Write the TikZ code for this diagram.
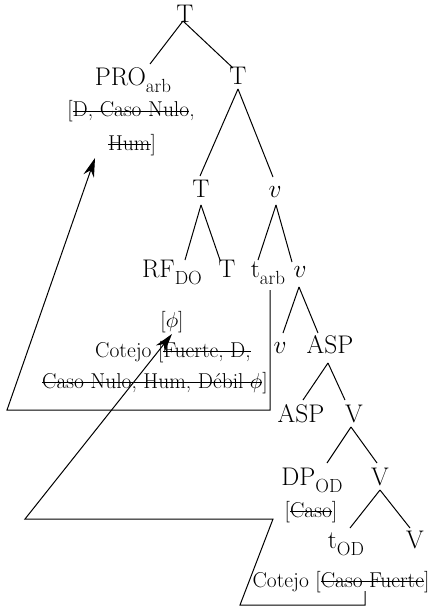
\documentclass[tikz,border=0pt]{standalone}
\usepackage{fix-cm}
\usetikzlibrary{calc,arrows.meta}
\newcommand{\lsub}[1]{\raisebox{-7pt}{\fontsize{19}{19}\selectfont #1}}
\newsavebox{\strkbox}
\newcommand{\strk}[1]{\sbox{\strkbox}{#1}\rlap{\rule[0.25em]{\wd\strkbox}{0.7pt}}\usebox{\strkbox}}
\tikzset{
  lab/.style={anchor=base,inner sep=0pt,font=\fontsize{25.5}{28}\selectfont},
  feat/.style={anchor=base,inner sep=0pt,font=\fontsize{21.5}{24}\selectfont},
  move/.style={line width=1pt,-{Stealth[length=19pt,width=11pt]}},
}
\begin{document}
\begin{tikzpicture}[x=1pt,y=-1pt,line width=1pt]
  \useasboundingbox (0,0) rectangle (431,607);
  % tree labels
  \foreach \n/\x/\y/\txt in {t0/185/23/T, pro/133/86/PRO\lsub{arb}, t1/238/85/T,
      t2/201/197/T, v2/275/197/$v$, rf/172/277/RF\lsub{DO}, t3/227/277/T,
      tarb/268/277/t\lsub{arb}, v3/300/277/$v$, v4/280/353/$v$, asp1/330/353/ASP,
      asp2/301/422/ASP, vv1/354/422/V, dp/312/485/DP\lsub{OD}, vv2/380/485/V,
      tod/346/548/t\lsub{OD}, vv3/415/548/V} {
    \node[lab] (\n) at (\x,\y) {\txt};
  }
  % features
  \foreach \n/\x/\y/\txt in {pf1/131/117/{[\strk{D, Caso Nulo},},
      pf2/132/150/{\strk{Hum}]}, phi/172/327/{[$\phi$]},
      cf1/173/357/{Cotejo [\strk{Fuerte, D,}},
      cf2/155/388/{\strk{Caso Nulo, Hum, D\'ebil $\phi$}]},
      caso/311/517/{[\strk{Caso}]}, cf3/341/587/{Cotejo [\strk{Caso Fuerte}]}} {
    \node[feat] (\n) at (\x,\y) {\txt};
  }
  % branches
  \foreach \a/\b/\ax/\ay/\bx/\by in {t0/pro/-2/-2/17/-22, t0/t1/-2/-2/-5/-17,
      t1/t2/0/4/-1/-21, t1/v2/0/4/-2/-20, t2/rf/0/8/13/-17, t2/t3/0/8/-7/-17,
      v2/tarb/1/8/-10/-17, v2/v3/1/8/-8/-15, v3/v4/-1/10/3/-20,
      v3/asp1/-1/10/-12/-20, asp1/asp2/-2/10/2/-22, asp1/vv1/-2/10/-9/-22,
      vv1/dp/-3/5/15/-22, vv1/vv2/-3/5/-3/-22, vv2/tod/0/5/4/-20,
      vv2/vv3/0/5/-5/-20} {
    \draw ($(\a.base)+(\ax,\ay)$) -- ($(\b.base)+(\bx,\by)$);
  }
  % movement
  \coordinate (a1) at (7,410);
  \draw[move] ($(tarb.base)+(2,13)$) |- (a1) -- ($(pf2.base)+(-37,8)$);
  \coordinate (b1) at (240,605);
  \coordinate (b2) at (273,519);
  \coordinate (b3) at (25,519);
  \draw[move] ($(cf3.base)+(24,4)$) |- (b1) -- (b2) -- (b3) -- ($(phi.base)+(0,7)$);
\end{tikzpicture}
\end{document}
